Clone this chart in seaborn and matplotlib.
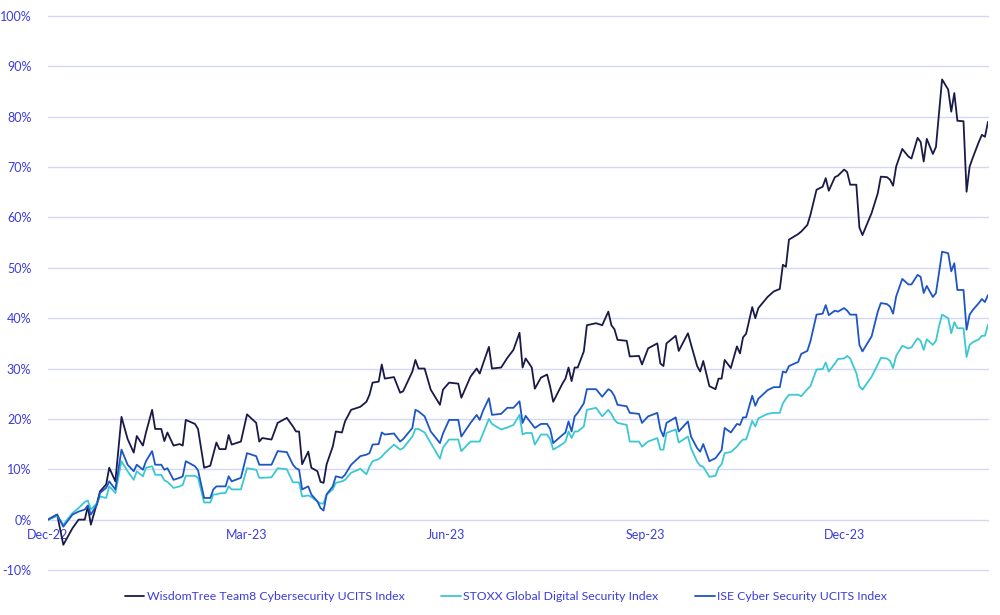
import matplotlib
matplotlib.use("Agg")
import pandas as pd
import seaborn as sns
import matplotlib.pyplot as plt
from matplotlib.ticker import FuncFormatter

# trading day number since 30 Dec 2022
day = [0, 3, 5, 8, 10, 12, 13, 14, 16, 17, 19, 20, 22, 24, 26, 28, 29, 31, 32, 34,
       35, 37, 38, 39, 41, 43, 44, 45, 48, 49, 51, 53, 54, 55, 56, 58, 59, 60, 63, 65,
       68, 69, 70, 73, 75, 78, 80, 81, 82, 83, 85, 86, 88, 89, 90, 91, 93, 94, 96, 97,
       99, 102, 104, 105, 106, 108, 109, 110, 113, 115, 116, 119, 120, 121, 123, 125, 128, 129, 131, 134,
       135, 138, 140, 141, 142, 144, 145, 148, 150, 152, 154, 155, 156, 158, 159, 161, 163, 164, 165, 168,
       169, 170, 171, 172, 173, 175, 176, 179, 181, 183, 184, 185, 186, 189, 190, 193, 194, 196, 199, 200,
       201, 202, 205, 206, 209, 210, 212, 213, 214, 216, 218, 219, 220, 221, 223, 225, 226, 227, 228, 230,
       231, 232, 235, 237, 239, 240, 241, 242, 245, 246, 248, 249, 251, 253, 254, 255, 257, 258, 260, 261,
       262, 264, 265, 266, 269, 271, 272, 274, 275, 276, 277, 279, 281, 282, 284, 285, 286, 287, 289, 290,
       291, 292, 294, 295, 296, 297, 299, 300, 301, 302, 304, 305, 306, 307]

wisdomtree = [0, 1, -5, -1.7, 0, 0, 2.6, -1, 3.3, 5.6, 7, 10.3, 7.6, 20.4, 16, 13.3, 16.6, 14.7, 17.3, 21.8,
              18, 18, 15.6, 17.3, 14.7, 15, 14.7, 19.8, 19, 18, 10.3, 10.7, 13, 15.3, 14, 14, 16.8, 14.9, 15.5, 20.9,
              19.2, 15.5, 16.2, 15.9, 19.2, 20.2, 18.5, 17.5, 17.5, 11, 13.5, 10.3, 9.6, 7.5, 7.3, 11, 14.5, 17.5, 17.3, 19.5,
              21.8, 22.4, 23.4, 24.8, 27.2, 27.4, 30.8, 28, 28.3, 25.2, 25.5, 29.4, 31.7, 30, 30, 25.8, 22.8, 25.8, 27.2, 27,
              24.2, 28.4, 30, 29, 30.8, 34.3, 30, 30.2, 32.1, 33.7, 37.1, 30.2, 32, 30.2, 26, 28.2, 28.8, 26.4, 23.4, 27,
              28, 30.2, 27.5, 30.2, 30.2, 33.4, 38.6, 39, 38.6, 41.3, 38.6, 37.8, 35.7, 35.5, 32.4, 32.5, 30.8, 34, 35, 31,
              30.5, 35, 36.5, 33.5, 37, 34.8, 30.5, 29.4, 31.5, 26.5, 25.9, 28, 28, 31.7, 30.1, 34.4, 33, 36.2, 36.9, 42.2,
              40, 42, 44.2, 45.3, 45.8, 50.6, 50.2, 55.6, 56.7, 57.2, 58.5, 60.5, 65.5, 66.1, 67.8, 65.3, 68, 68.3, 69.5, 69,
              66.5, 66.5, 58, 56.5, 60.9, 64.8, 68.1, 68, 67.5, 66.3, 70.1, 73.6, 72.1, 71.7, 75.8, 75, 71.1, 75.6, 72.6, 74,
              80.7, 87.4, 85.4, 81, 84.7, 79.2, 79.1, 65.1, 70.1, 71.8, 75, 76.4, 76, 79]

stoxx = [0, 0.7, -1, 1.3, 2.3, 3.5, 3.8, 2, 3.3, 4.6, 4.3, 6.6, 5.3, 11.6, 9.6, 7.9, 9.6, 8.6, 10.3, 10.6,
         8.9, 8.9, 7.8, 7.5, 6.3, 6.6, 6.9, 8.7, 8.7, 8.3, 3.4, 3.4, 5, 5, 5.2, 5.3, 6.6, 6, 6, 10.2,
         9.9, 8.3, 8.3, 8.4, 10.2, 10, 7.4, 7.4, 7.4, 4.6, 4.8, 4.5, 3.6, 3.2, 3.2, 5, 6, 7.3, 7.6, 7.9,
         9.3, 10.1, 9, 10.5, 11.6, 12, 12.5, 13.2, 14.9, 13.9, 14.2, 16.5, 18, 18, 17.3, 15.2, 12.1, 14.3, 15.9, 15.9,
         13.6, 15.5, 15.5, 15.5, 17, 20, 19, 17.9, 18.3, 18.8, 20.8, 16.9, 17.2, 17.2, 14.9, 16.9, 16.9, 16, 13.9, 15,
         15.5, 17.5, 16.2, 17.5, 17.5, 18.5, 21.8, 22.2, 20.5, 21.8, 21, 19.8, 19.2, 18.8, 15.5, 15.5, 14.5, 15.5, 16.2, 13.9,
         13.9, 17.2, 17.9, 15.3, 16.5, 14.2, 11.5, 10.7, 10.5, 8.5, 8.7, 10.3, 11, 13.2, 13.4, 14.5, 15.3, 15.9, 15.9, 19.6,
         18.5, 20.1, 21, 21.2, 21.2, 23.1, 24, 24.8, 24.8, 24.5, 25.9, 26.5, 29.8, 29.9, 31.2, 29.4, 31, 31.9, 32, 32.5,
         32, 29.1, 26.5, 25.8, 28.4, 30.8, 32.1, 32, 31.5, 30.1, 32.5, 34.5, 34, 34.2, 36, 35.5, 33.7, 35.8, 34.7, 35.5,
         38.4, 40.7, 40, 37, 39.2, 38, 38, 32.3, 34.7, 35.2, 35.8, 36.5, 36.5, 38.7]

ise = [0, 1, -1.4, 1, 1.6, 2, 2.8, 1, 3, 5.3, 6.3, 7.6, 6, 13.9, 10.9, 9.6, 10.9, 9.9, 11.6, 13.6,
       10.9, 10.9, 9.9, 10.2, 7.9, 8.3, 8.6, 11.6, 10.6, 9.8, 4.3, 4.3, 6, 6.6, 6.6, 6.6, 8.6, 7.6, 8.3, 13.2,
       12.6, 10.9, 10.9, 10.9, 13.6, 13.4, 10.9, 10.2, 9.9, 6, 6.6, 5, 3.6, 2.3, 1.8, 5, 6.6, 8.6, 8.3, 8.9,
       10.9, 12.6, 12.9, 13.2, 14.9, 15, 17.3, 16.9, 17.1, 15.5, 16, 18.2, 21.8, 21.5, 20.5, 17.5, 15.2, 17.1, 19.8, 19.8,
       16.5, 19.2, 20.8, 19.8, 21.5, 24.1, 20.8, 21, 22.2, 22.2, 23.5, 19.2, 20.6, 19, 18.2, 19, 19, 18, 15.2, 16.8,
       17.3, 19.5, 17.5, 20.5, 21.2, 23.1, 25.9, 25.9, 24.4, 25.9, 25.5, 24.5, 22.8, 22.5, 21.2, 21, 19.2, 20.5, 21.2, 17.9,
       16.5, 19.2, 20.3, 17.5, 19.5, 16.5, 14.2, 13.5, 15, 11.6, 12.2, 13, 13.8, 18.2, 17.3, 19, 18.8, 20.3, 20.3, 24.6,
       22.6, 24, 25.7, 26.3, 26.3, 29.4, 29.2, 30.5, 31.3, 32.9, 33.5, 35.4, 40.7, 40.9, 42.6, 40.6, 41.5, 41.3, 42, 41.5,
       40.7, 40.7, 34.7, 33.4, 36.4, 41.3, 43, 42.8, 42.3, 40.9, 44.3, 47.8, 46.7, 46.7, 48.6, 48.2, 45, 46.4, 44.2, 45,
       49, 53.2, 52.9, 49.3, 50.9, 45.6, 45.6, 37.7, 40.7, 41.6, 43, 43.8, 43.2, 44.6]

series_names = ["WisdomTree Team8 Cybersecurity UCITS Index",
                "STOXX Global Digital Security Index",
                "ISE Cyber Security UCITS Index"]
series_colors = ["#1a1a48", "#3cc8d2", "#1e55c4"]

tick_days = [0, 65, 130, 195, 260]
tick_labels = ["Dec-22", "Mar-23", "Jun-23", "Sep-23", "Dec-23"]

text_color = "#3c3cdc"
grid_color = "#d6d6f6"

df = pd.DataFrame({"day": day,
                   series_names[0]: wisdomtree,
                   series_names[1]: stoxx,
                   series_names[2]: ise})
long_df = df.melt(id_vars="day", var_name="Index", value_name="Return")

sns.set_theme(style="white")
plt.rcParams["font.family"] = ["Lato", "DejaVu Sans"]

fig = plt.figure(figsize=(10, 6.15), dpi=100)
ax = fig.add_axes([0.048, 0.0732, 0.94, 0.9008])

sns.lineplot(data=long_df, x="day", y="Return", hue="Index",
             palette=dict(zip(series_names, series_colors)),
             linewidth=1.3, ax=ax)

ax.set_xlim(0, 307)
ax.set_ylim(-10, 100)
ax.set_yticks(range(-10, 101, 10))
ax.yaxis.set_major_formatter(FuncFormatter(lambda v, p: f"{v:.0f}%"))
ax.grid(axis="y", color=grid_color, linewidth=1)
ax.grid(axis="x", visible=False)
ax.set_axisbelow(True)
for gl in ax.get_ygridlines():
    gl.set_clip_on(False)

# x labels sit just under the 0% line, as in the source
ax.spines["bottom"].set_position(("data", 0))
for side in ["top", "right", "left", "bottom"]:
    ax.spines[side].set_visible(False)
ax.set_xticks(tick_days)
ax.set_xticklabels(tick_labels)
ax.tick_params(axis="x", length=0, pad=7, labelsize=9, labelcolor=text_color)
ax.tick_params(axis="y", length=0, pad=12, labelsize=9, labelcolor=text_color)
ax.set_xlabel("")
ax.set_ylabel("")

leg = ax.legend(loc="upper center", bbox_to_anchor=(0.487, -0.018), ncol=3,
                frameon=False, handlelength=1.6, handletextpad=0.2,
                columnspacing=3.0, fontsize=8.8)
for txt in leg.get_texts():
    txt.set_color(text_color)

fig.savefig("out.png", dpi=100)
